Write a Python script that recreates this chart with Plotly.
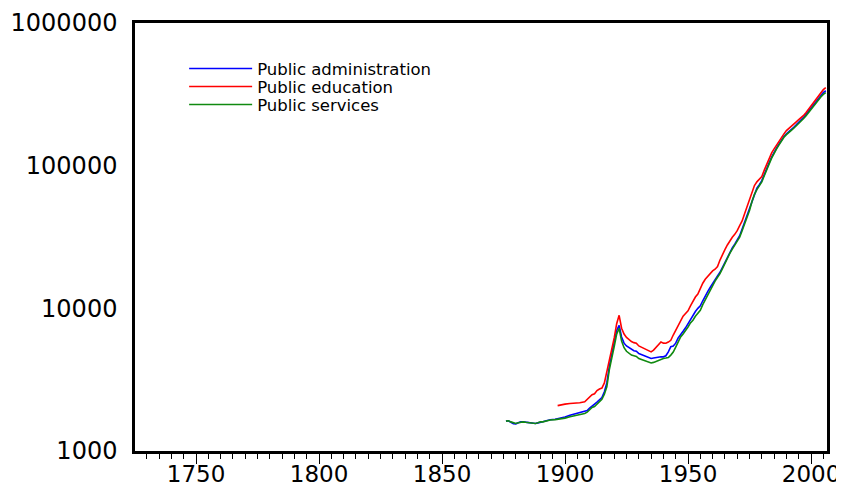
import plotly.graph_objects as go

# ---- data ----
years_admin = [1876, 1877, 1878, 1879, 1880, 1881, 1882, 1883, 1884, 1885, 1886, 1887, 1888, 1889, 1890,
               1891, 1892, 1893, 1894, 1896, 1898, 1900, 1902, 1904, 1906, 1908, 1909, 1910, 1911, 1912,
               1913, 1914, 1915, 1916, 1917, 1918, 1919, 1920, 1921, 1922, 1923, 1924, 1925, 1926, 1927,
               1928, 1929, 1930, 1931, 1932, 1933, 1934, 1935, 1936, 1937, 1938, 1939, 1940, 1941, 1942,
               1943, 1944, 1945, 1946, 1947, 1948, 1949, 1950, 1951, 1952, 1953, 1954, 1955, 1956, 1957,
               1958, 1959, 1960, 1961, 1962, 1963, 1964, 1965, 1966, 1967, 1968, 1969, 1970, 1971, 1972,
               1973, 1974, 1975, 1976, 1977, 1978, 1979, 1980, 1981, 1982, 1983, 1984, 1985, 1986, 1987,
               1988, 1989, 1990, 1991, 1992, 1993, 1994, 1995, 1996, 1997, 1998, 1999, 2000, 2001, 2002,
               2003, 2004, 2005, 2006]
admin = [1620, 1630, 1590, 1555, 1550, 1575, 1600, 1600, 1590, 1578, 1568, 1560, 1560, 1575, 1600,
         1605, 1625, 1645, 1655, 1670, 1690, 1730, 1780, 1820, 1850, 1890, 1920, 2000, 2080, 2130,
         2200, 2280, 2370, 2600, 3000, 3900, 4900, 5800, 7000, 7600, 6300, 5700, 5450, 5300, 5150,
         5050, 5000, 4820, 4750, 4680, 4620, 4500, 4450, 4480, 4520, 4560, 4580, 4570, 4650, 4950,
         5380, 5450, 5700, 6200, 6600, 6900, 7300, 7800, 8400, 9000, 9500, 10000, 10400, 11300, 12300,
         13100, 14000, 15000, 16000, 16900, 17900, 19400, 21200, 23000, 24800, 26500, 28200, 30200, 32300, 36000,
         40200, 45300, 50000, 57500, 64500, 69500, 73500, 78500, 86500, 97000, 105000, 115000, 125000, 133000, 142000,
         152000, 160000, 167000, 174000, 180000, 186000, 193000, 200000, 208000, 218000, 229000, 241000, 255000, 268000, 282000,
         297000, 311000, 325000, 335000]

years_edu = [1897, 1898, 1900, 1902, 1904, 1906, 1908, 1909, 1910, 1911, 1912, 1913, 1914, 1915, 1916,
             1917, 1918, 1919, 1920, 1921, 1922, 1923, 1924, 1925, 1926, 1927, 1928, 1929, 1930, 1931,
             1932, 1933, 1934, 1935, 1936, 1937, 1938, 1939, 1940, 1941, 1942, 1943, 1944, 1945, 1946,
             1947, 1948, 1949, 1950, 1951, 1952, 1953, 1954, 1955, 1956, 1957, 1958, 1959, 1960, 1961,
             1962, 1963, 1964, 1965, 1966, 1967, 1968, 1969, 1970, 1971, 1972, 1973, 1974, 1975, 1976,
             1977, 1978, 1979, 1980, 1981, 1982, 1983, 1984, 1985, 1986, 1987, 1988, 1989, 1990, 1991,
             1992, 1993, 1994, 1995, 1996, 1997, 1998, 1999, 2000, 2001, 2002, 2003, 2004, 2005, 2006]
education = [2080, 2100, 2130, 2150, 2160, 2180, 2210, 2300, 2420, 2480, 2520, 2650, 2720, 2760, 3000,
             3570, 4300, 5000, 6200, 7800, 8930, 7250, 6600, 6250, 6000, 5850, 5750, 5690, 5450, 5340,
             5250, 5120, 5000, 4950, 5100, 5350, 5550, 5810, 5700, 5690, 5800, 5970, 6500, 7000, 7600,
             8300, 8800, 9200, 9600, 10400, 11300, 12000, 12600, 13800, 15000, 16000, 16800, 17600, 18300, 18800,
             19600, 21800, 24000, 25800, 27800, 29800, 31500, 33000, 35000, 38000, 41000, 46000, 52000, 58000, 65000,
             72500, 77000, 80000, 84000, 93000, 103000, 113000, 123000, 131000, 140000, 149000, 158000, 167000, 176000, 183000,
             190000, 196000, 203000, 210000, 216000, 225000, 236000, 249000, 263000, 277000, 292000, 309000, 325000, 341000, 352000]

years_serv = years_admin
services = [1620, 1630, 1600, 1570, 1560, 1580, 1600, 1600, 1590, 1580, 1570, 1560, 1560, 1575, 1600,
            1600, 1620, 1640, 1650, 1660, 1675, 1700, 1740, 1770, 1790, 1830, 1870, 1950, 2020, 2050,
            2130, 2210, 2300, 2500, 2820, 3700, 4600, 5400, 6600, 7250, 5900, 5300, 5000, 4830, 4700,
            4650, 4600, 4450, 4380, 4300, 4220, 4180, 4140, 4180, 4250, 4320, 4400, 4450, 4480, 4520,
            4700, 4940, 5350, 5800, 6300, 6600, 6950, 7400, 7900, 8250, 8800, 9300, 9700, 10600, 11500,
            12300, 13400, 14400, 15500, 16500, 17500, 19000, 20800, 22500, 24300, 26000, 27600, 29500, 31500, 35000,
            39000, 44000, 48500, 56000, 63000, 68000, 72000, 77000, 85000, 95000, 103000, 113000, 123000, 131000, 140000,
            150000, 158000, 165000, 172000, 177000, 183000, 190000, 196000, 204000, 214000, 224000, 236000, 250000, 262000, 275000,
            290000, 303000, 316000, 325000]

series_names = ["Public administration", "Public education", "Public services"]
x_tickvals = [1750, 1800, 1850, 1900, 1950, 2000]
y_tickvals = [1000, 10000, 100000, 1000000]
y_ticktext = ["1000", "10000", "100000", "1000000"]

FONT = "DejaVu Sans, Liberation Sans, Arial, sans-serif"

fig = go.Figure()
fig.add_trace(go.Scatter(x=years_admin, y=admin, mode="lines", name=series_names[0],
                         line=dict(color="#0000ff", width=1.6), legend="legend"))
fig.add_trace(go.Scatter(x=years_edu, y=education, mode="lines", name=series_names[1],
                         line=dict(color="#ff0000", width=1.6), legend="legend2"))
fig.add_trace(go.Scatter(x=years_serv, y=services, mode="lines", name=series_names[2],
                         line=dict(color="#108a10", width=1.6), legend="legend3"))

leg_common = dict(x=0.0710, xanchor="left", yanchor="middle", bgcolor="rgba(0,0,0,0)",
                  font=dict(size=16.5, family=FONT, color="black"), itemwidth=63, borderwidth=0)

fig.update_layout(
    width=836, height=479,
    margin=dict(l=127, r=17, t=15, b=36, pad=0, autoexpand=False),
    paper_bgcolor="white", plot_bgcolor="white",
    font=dict(family=FONT, color="black"),
    showlegend=True,
    legend=dict(y=0.893, **leg_common),
    legend2=dict(y=0.851, **leg_common),
    legend3=dict(y=0.809, **leg_common),
)
fig.update_xaxes(
    range=[1725.2, 2006.5], showgrid=False, zeroline=False, automargin=False,
    showline=True, linecolor="black", linewidth=2.5, mirror=True,
    tickmode="array", tickvals=x_tickvals,
    ticks="outside", ticklen=10, tickwidth=1.3, tickcolor="black",
    minor=dict(dtick=5, tick0=1725, ticks="outside", ticklen=5, tickwidth=1.3, tickcolor="black"),
    tickfont=dict(size=23, family=FONT), ticklabelstandoff=-9,
)
fig.update_yaxes(
    type="log", range=[3, 6], showgrid=False, zeroline=False, automargin=False,
    showline=True, linecolor="black", linewidth=2.5, mirror=True,
    tickmode="array", tickvals=y_tickvals, ticktext=y_ticktext,
    ticks="", ticklabelstandoff=10,
    tickfont=dict(size=24, family=FONT),
)

fig.write_html("out.html")
